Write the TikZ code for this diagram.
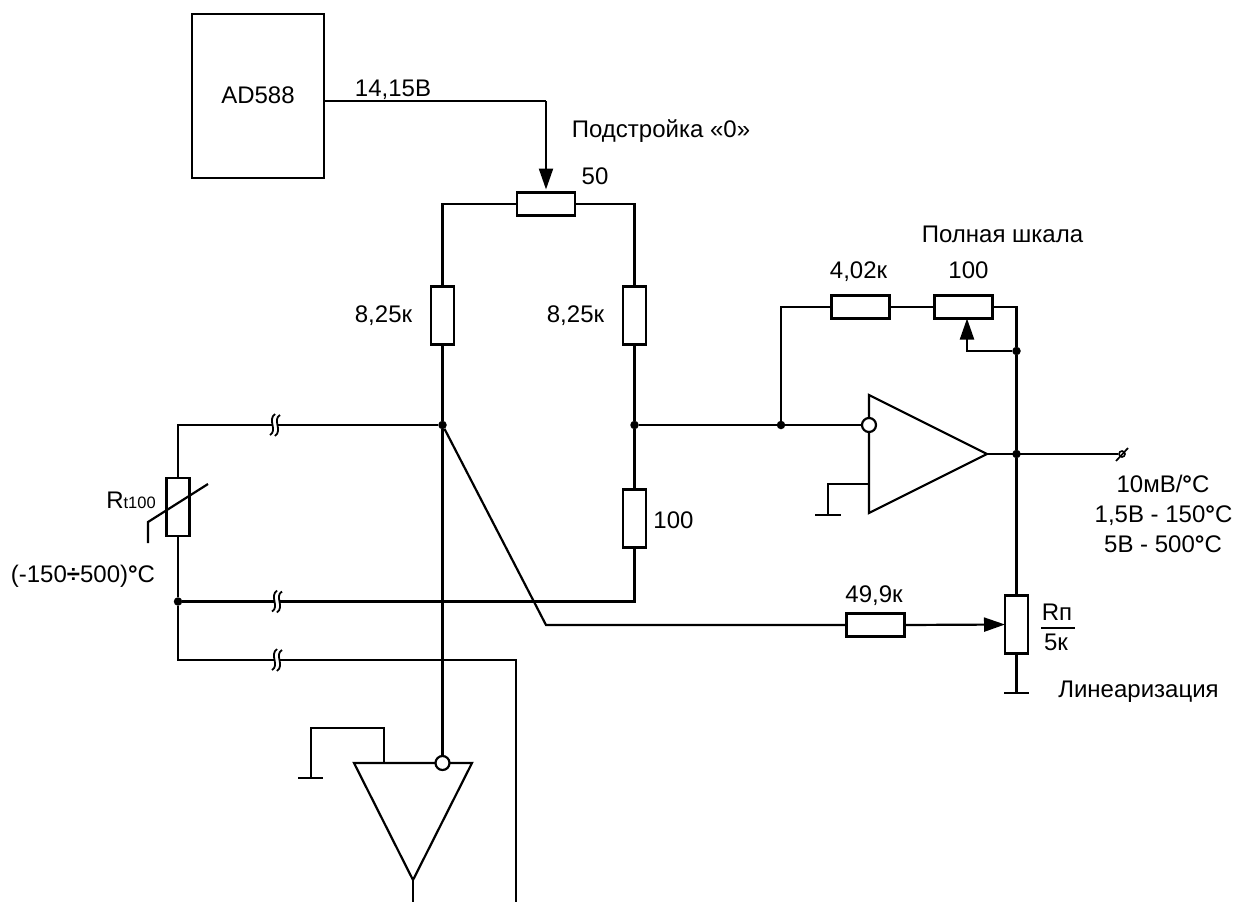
\documentclass[tikz,border=0pt]{standalone}
\usepackage{fontspec}
\setmainfont{Liberation Sans}
\usepackage{xcolor}
\usetikzlibrary{calc}
\usetikzlibrary{arrows.meta}
\newcommand{\degs}{{\bfseries °}}
\tikzset{
    wire/.style={line width=2.2pt,line join=miter},
    thinwire/.style={line width=1.8pt},
    hres/.style={draw,line width=2.2pt,fill=white,minimum width=58pt,minimum height=23pt,inner sep=0pt,outer sep=0pt},
    vres/.style={draw,line width=2.2pt,fill=white,minimum width=23pt,minimum height=58pt,inner sep=0pt,outer sep=0pt},
    jdot/.style={circle,fill=black,inner sep=0pt,minimum size=8.5pt},
    inv/.style={circle,draw,line width=2.2pt,fill=white,inner sep=0pt,minimum size=14pt,outer sep=0pt},
    lbl/.style={inner sep=0pt,anchor=base,font=\fontsize{24}{28}\selectfont},
    tip/.style={-{Triangle[length=21pt,width=14pt]}},
    gnd/.style={line width=2.2pt},
    brk/.pic={
        \fill[white] (-2,-3) rectangle (3,3);
        \draw[line width=1.8pt] (-5,10) .. controls (3,5) and (-8,-5) .. (0,-11);
        \draw[line width=1.8pt] (0,11) .. controls (8,5) and (-3,-5) .. (5,-10);
    }
}
\begin{document}
\begin{tikzpicture}[x=1pt,y=-1pt]
\useasboundingbox (0,0) rectangle (1236,902);
\begin{scope}
    % upper bridge
    \node[draw,line width=2.2pt,minimum width=132pt,minimum height=164pt,inner sep=0pt] (ad) at (258,96) {};
    \node[lbl] (adtext) at (258,103) {AD588};
    \node[hres] (r50) at (546,204) {};
    \node[vres] (rl) at (442.5,315.5) {};
    \node[vres] (rr) at (634.5,315.5) {};
    \node[vres] (r100) at (634.5,518.5) {};
    \node[vres] (rt) at (178,507) {};
    \node[jdot] (jl) at (442.5,425) {};
    \node[jdot] (jr) at (634.5,425) {};
    \node[jdot] (jt) at (178,601.5) {};
    \coordinate (tl) at (442.5,204);
    \coordinate (tr) at (634.5,204);
    \coordinate (bend) at (546,101);
    \coordinate (adout) at ($(ad.east)+(0,5)$);
    \draw[wire] (adout) -- (bend);
    \draw[wire,tip,shorten >=3pt] (bend) -- (r50.north);
    \draw[wire] (r50.west) -- (tl) -- (rl.north);
    \draw[wire] (r50.east) -- (tr) -- (rr.north);
    \draw[wire] (rl.south) -- (jl);
    \draw[wire] (rr.south) -- (jr) -- (r100.north);
    % sensor lines
    \coordinate (sa) at (178,425);
    \coordinate (sb) at (634.5,601.5);
    \coordinate (sc) at (178,660);
    \coordinate (sd) at (516,660);
    \coordinate (se) at (516,902);
    \draw[wire] (jl) -- (sa) -- (rt.north);
    \draw[wire] (rt.south) -- (jt) -- (sc) -- (sd) -- (se);
    \draw[wire] (jt) -- (sb) -- (r100.south);
    \pic at (275,425) {brk};
    \pic at (277,601.5) {brk};
    \pic at (277,660) {brk};
    \coordinate (va) at (148,543);
    \coordinate (vb) at (148,522);
    \coordinate (vc) at (208,484);
    \draw[wire] (va) -- (vb) -- (vc);
    % lower amplifier
    \coordinate (la) at (354,763);
    \coordinate (lb) at (472,763);
    \coordinate (lc) at (413,880);
    \coordinate (ld) at (413,902);
    \coordinate (lg) at (384,763);
    \coordinate (lh) at (384,728);
    \coordinate (li) at (311,728);
    \coordinate (lj) at (311,778);
    \coordinate (lk) at (298,778);
    \coordinate (ll) at (323,778);
    \draw[wire] (la) -- (lb) -- (lc) -- cycle;
    \node[inv] (linv) at (442.5,763) {};
    \draw[wire] (lc) -- (ld);
    \draw[wire] (jl) -- (linv.north);
    \draw[wire] (lg) -- (lh) -- (li) -- (lj);
    \draw[gnd] (lk) -- (ll);
    % main amplifier
    \coordinate (ma) at (869,395);
    \coordinate (mb) at (869,513);
    \coordinate (mc) at (987,454);
    \coordinate (mg) at (869,484);
    \coordinate (mh) at (828,484);
    \coordinate (mi) at (828,515);
    \coordinate (mj) at (815,515);
    \coordinate (mk) at (841,515);
    \draw[wire] (ma) -- (mb) -- (mc) -- cycle;
    \node[inv] (minv) at (869,425) {};
    \node[jdot] (jf) at (781,425) {};
    \node[jdot] (jo) at (1016.5,454) {};
    \node[jdot] (jw) at (1016.5,351) {};
    \node[hres] (r402) at (860.5,307) {};
    \node[hres] (r100t) at (963.5,307) {};
    \coordinate (fa) at (781,307);
    \coordinate (fb) at (1016.5,307);
    \coordinate (wa) at (967,351);
    \draw[wire] (jr) -- (minv.west);
    \draw[wire] (jf) -- (fa) -- (r402.west);
    \draw[wire] (r402.east) -- (r100t.west);
    \draw[wire] (r100t.east) -- (fb) -- (jw) -- (jo);
    \draw[wire,tip] (jw) -- (wa) -- (wa |- r100t.south);
    \draw[wire] (mg) -- (mh) -- (mi);
    \draw[gnd] (mj) -- (mk);
    % output and linearisation
    \node[circle,draw,line width=1.6pt,fill=white,inner sep=0pt,minimum size=6pt] (out) at (1122,454) {};
    \coordinate (oa) at (1116,461);
    \coordinate (ob) at (1128,448);
    \draw[wire] (mc) -- (out.west);
    \draw[line width=1.7pt] (oa) -- (ob);
    \node[vres] (rp) at (1016.5,624.5) {};
    \node[hres] (r499) at (875.5,625) {};
    \coordinate (dg) at (546,625);
    \coordinate (ga) at (1016.5,693);
    \coordinate (gb) at (1004,693);
    \coordinate (gc) at (1029,693);
    \draw[wire] (jo) -- (rp.north);
    \draw[wire] (rp.south) -- (ga);
    \draw[gnd] (gb) -- (gc);
    \draw[wire] (jl) -- (dg) -- (r499.west);
    \draw[wire,tip] (r499.east) -- (rp.west);
    % labels
    \node[lbl] (v1415) at (393,96) {14,15В};
    \node[lbl] (zero) at (661,137) {Подстройка «0»};
    \node[lbl] (n50) at (595,184) {50};
    \node[lbl] (nl) at (383.5,322.5) {8,25к};
    \node[lbl] (nr) at (575.5,322.5) {8,25к};
    \node[lbl] (n100) at (673.5,528) {100};
    \node[lbl] (scale) at (1002.5,242) {Полная шкала};
    \node[lbl] (n402) at (858.5,278) {4,02к};
    \node[lbl] (n100t) at (968.5,278) {100};
    \node[lbl] (n499) at (874,602) {49,9к};
    \node[lbl] (nrt) at (131,508) {R{\fontsize{16.5}{18}\selectfont t100}};
    \node[lbl] (range) at (83,582) {(-150{\bfseries ÷}500)\degs C};
    \node[lbl] (o1) at (1163,492) {10мВ/\degs C};
    \node[lbl] (o2) at (1163.5,522) {1,5В - 150\degs C};
    \node[lbl] (o3) at (1163,552) {5В - 500\degs C};
    \node[lbl] (rpa) at (1057,620) {Rп};
    \node[lbl] (rpb) at (1056,650) {5к};
    \coordinate (fra) at (1041,628);
    \coordinate (frb) at (1075,628);
    \draw[thinwire] (fra) -- (frb);
    \node[lbl] (lin) at (1138.5,697) {Линеаризация};
\end{scope}
\end{tikzpicture}
\end{document}
